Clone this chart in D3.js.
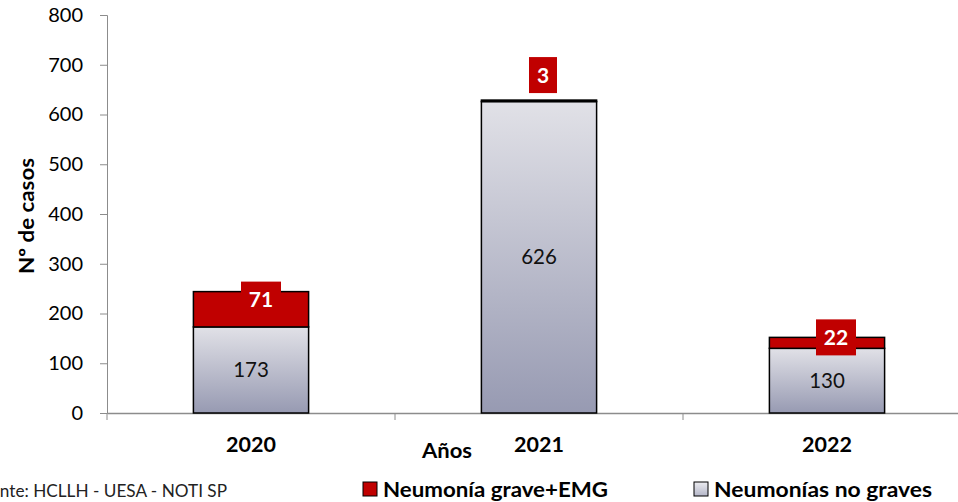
<!DOCTYPE html>
<html><head><meta charset="utf-8">
<script src="https://cdn.jsdelivr.net/npm/d3@7/dist/d3.min.js"></script>
<style>body{margin:0;background:#fff}svg{display:block}text{font-family:Lato,"Open Sans",sans-serif}</style>
</head><body>
<svg id="c" width="958" height="502"></svg>
<script>
const years = ["2020","2021","2022"];
const noGraves = [173, 626, 130];
const graves = [71, 3, 22];
const yTicks = [0,100,200,300,400,500,600,700,800];
const seriesNames = ["Neumonía grave+EMG","Neumonías no graves"];
// label box pixel offsets (dx, dy of box center relative to top of stack)
const labelOffsets = [[10,8],[4,-25],[9,0]];

const svg = d3.select("#c");
const defs = svg.append("defs");
const g = defs.append("linearGradient").attr("id","gr").attr("x1",0).attr("y1",0).attr("x2",0).attr("y2",1);
g.append("stop").attr("offset","0%").attr("stop-color","#e1e1e7");
g.append("stop").attr("offset","100%").attr("stop-color","#979ab2");
const gl = defs.append("linearGradient").attr("id","grl").attr("x1",0).attr("y1",0).attr("x2",0).attr("y2",1);
gl.append("stop").attr("offset","0%").attr("stop-color","#ececf0");
gl.append("stop").attr("offset","100%").attr("stop-color","#b4b6c8");

const y = d3.scaleLinear().domain([0,800]).range([413,15]);
const x = d3.scaleBand().domain(years).range([107,971]).padding(0);
const bw = x.bandwidth()*0.4;

// axes
const ya = svg.append("g").attr("transform","translate(107,0)")
  .call(d3.axisLeft(y).tickValues(yTicks).tickSize(7).tickPadding(17));
ya.select(".domain").attr("stroke","#8c8c8c");
ya.selectAll(".tick line").attr("stroke","#8c8c8c");
ya.selectAll(".tick text").attr("fill","#000").style("font-size","20px").style("font-family","Lato");

const xa = svg.append("g").attr("transform","translate(0,413)")
  .call(d3.axisBottom(x).tickSize(0).tickFormat(""));
xa.select(".domain").attr("stroke","#8c8c8c").attr("stroke-width",1.5);
// category separator ticks
svg.append("g").selectAll("line").data(years).join("line")
  .attr("x1",d=>x(d)).attr("x2",d=>x(d)).attr("y1",413).attr("y2",420)
  .attr("stroke","#8c8c8c");

// bars
const bars = svg.append("g");
years.forEach((yr,i)=>{
  const cx = x(yr)+x.bandwidth()/2;
  bars.append("rect").attr("x",cx-bw/2).attr("y",y(noGraves[i])).attr("width",bw)
    .attr("height",y(0)-y(noGraves[i])).attr("fill","url(#gr)").attr("stroke","#000").attr("stroke-width",1.5);
  bars.append("rect").attr("x",cx-bw/2).attr("y",y(noGraves[i]+graves[i])).attr("width",bw)
    .attr("height",y(noGraves[i])-y(noGraves[i]+graves[i])).attr("fill","#c00000").attr("stroke","#000").attr("stroke-width",1.5);
  // inner label
  bars.append("text").attr("x",cx).attr("y",y(noGraves[i]/2)).attr("dy","0.35em")
    .attr("text-anchor","middle").style("font-size","20.5px").attr("fill","#111").text(noGraves[i]);
  // red label box
  const ly = y(noGraves[i]+graves[i]) + labelOffsets[i][1];
  const lx = cx + labelOffsets[i][0];
  const t = String(graves[i]);
  const w = t.length>1 ? 40 : 28;
  bars.append("rect").attr("x",lx-w/2).attr("y",ly-18).attr("width",w).attr("height",36).attr("fill","#c00000");
  bars.append("text").attr("x",lx).attr("y",ly).attr("dy","0.36em").attr("text-anchor","middle")
    .style("font-size","21px").style("font-weight","bold").attr("fill","#fff").text(t);
});

// year labels
svg.append("g").selectAll("text").data(years).join("text")
  .attr("x",d=>x(d)+x.bandwidth()/2).attr("y",452).attr("text-anchor","middle")
  .style("font-size","21.5px").style("font-weight","bold").text(d=>d);

svg.append("text").attr("x",447).attr("y",458).attr("text-anchor","middle")
  .style("font-size","21px").style("font-weight","bold")
  .attr("textLength",50).attr("lengthAdjust","spacingAndGlyphs").text("Años");

svg.append("text").attr("transform","translate(34,216) rotate(-90)").attr("text-anchor","middle")
  .style("font-size","21px").style("font-weight","bold")
  .attr("textLength",116).attr("lengthAdjust","spacingAndGlyphs").text("Nº de casos");

// source
svg.append("text").attr("x",227).attr("y",497).attr("text-anchor","end")
  .style("font-size","17.2px").attr("fill","#222").text("Fuente: HCLLH - UESA - NOTI SP");

// legend
const leg = [[363,"#c00000",225],[694,"url(#grl)",218]];
seriesNames.forEach((n,i)=>{
  svg.append("rect").attr("x",leg[i][0]).attr("y",482).attr("width",14).attr("height",14)
    .attr("fill",leg[i][1]).attr("stroke","#000").attr("stroke-width",1);
  svg.append("text").attr("x",leg[i][0]+20).attr("y",497).style("font-size","21px")
    .style("font-weight","bold").attr("textLength",leg[i][2]).attr("lengthAdjust","spacingAndGlyphs").text(n);
});
</script>
</body></html>
